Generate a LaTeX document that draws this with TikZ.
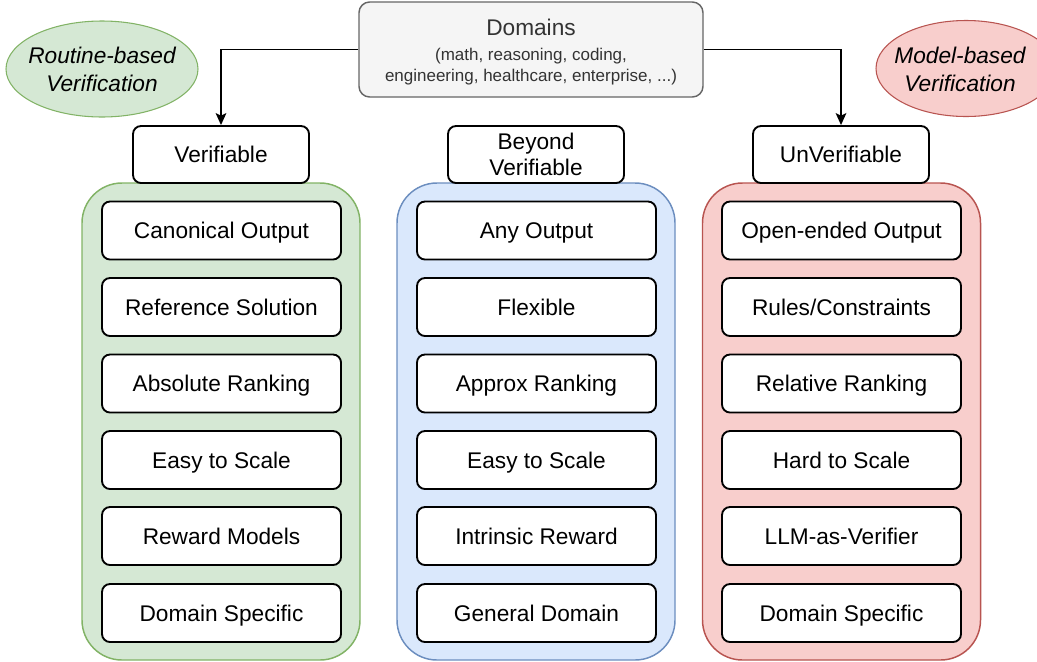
\documentclass[tikz,border=0pt]{standalone}
\usepackage{fontspec}
\setmainfont{Liberation Sans}
\usetikzlibrary{shapes.geometric,arrows.meta}
\definecolor{gfill}{HTML}{D5E8D4}
\definecolor{gline}{HTML}{82B366}
\definecolor{bfill}{HTML}{DAE8FC}
\definecolor{bline}{HTML}{6C8EBF}
\definecolor{rfill}{HTML}{F8CECC}
\definecolor{rline}{HTML}{B85450}
\definecolor{dfill}{HTML}{F5F5F5}
\definecolor{dline}{HTML}{666666}
\definecolor{dtext}{HTML}{333333}
\tikzset{
  bigfont/.style={font=\fontsize{17}{19.5}\selectfont},
  itembox/.style={draw=black, line width=1.4pt, fill=white, rounded corners=6pt,
    minimum width=179.25pt, minimum height=43.5pt, inner sep=0pt, bigfont, align=center,
    text height=12.2pt, text depth=0pt},
  headbox/.style={draw=black, line width=1.4pt, fill=white, rounded corners=6pt,
    minimum width=132pt, minimum height=42.75pt, inner sep=0pt, bigfont, align=center},
  oneline/.style={text height=12.2pt, text depth=0pt},
  container/.style={line width=1.1pt, rounded corners=30pt,
    minimum width=208.5pt, minimum height=357.75pt, inner sep=0pt},
  tagellipse/.style={ellipse, line width=0.8pt, minimum width=144pt, minimum height=72pt,
    inner sep=0pt},
  tagtext/.style={align=center, inner sep=0pt, font=\fontsize{17}{20.5}\selectfont\itshape},
  arr/.style={line width=1.4pt, -{Stealth[length=9pt,width=8pt,inset=2pt]}},
}
\begin{document}
\begin{tikzpicture}[x=0.75pt,y=-0.75pt]
\useasboundingbox (0,0) rectangle (1037,661);
\clip (0,0) rectangle (1037,661);

% tags
\node[tagellipse, draw=gline, fill=gfill] (tagR) at (102,69) {};
\node[tagtext] (tagRt) at (102,69.5) {Routine-based\\Verification};
\node[tagellipse, draw=rline, fill=rfill, minimum width=135pt] (tagM) at (966,68.5) {};
\node[tagtext] (tagMt) at (960,69.5) {Model-based\\Verification};

% domains
\node[draw=dline, fill=dfill, line width=1.1pt, rounded corners=8pt, minimum width=258pt,
  minimum height=71.25pt, inner sep=0pt] (dom) at (531,49.5) {};
\node[align=center, text=dtext, inner sep=0pt,
  font=\fontsize{12.75}{15.6}\selectfont] (domt) at (531,52)
  {{\fontsize{17}{19}\selectfont Domains}\\[3pt]
   (math, reasoning, coding,\\
   engineering, healthcare, enterprise, ...)};

% containers
\node[container, draw=gline, fill=gfill] (cg) at (221,421.5) {};
\node[container, draw=bline, fill=bfill] (cb) at (536,421.5) {};
\node[container, draw=rline, fill=rfill] (cr) at (841.5,421.5) {};

% headers
\node[headbox, oneline] (h1) at (221,154.5) {Verifiable};
\node[headbox] (h2) at (536,154.5) {Beyond\\Verifiable};
\node[headbox, oneline] (h3) at (841,154.5) {UnVerifiable};

% arrows
\draw[arr] (dom.west) -| (h1.north);
\draw[arr] (dom.east) -| (h3.north);

% items: verifiable
\node[itembox] (g1) at (221.5,230.5) {Canonical Output};
\node[itembox] (g2) at (221.5,307) {Reference Solution};
\node[itembox] (g3) at (221.5,383.5) {Absolute Ranking};
\node[itembox] (g4) at (221.5,460) {Easy to Scale};
\node[itembox] (g5) at (221.5,536) {Reward Models};
\node[itembox] (g6) at (221.5,613) {Domain Specific};

% items: beyond
\node[itembox] (b1) at (536.5,230.5) {Any Output};
\node[itembox] (b2) at (536.5,307) {Flexible};
\node[itembox] (b3) at (536.5,383.5) {Approx Ranking};
\node[itembox] (b4) at (536.5,460) {Easy to Scale};
\node[itembox] (b5) at (536.5,536) {Intrinsic Reward};
\node[itembox] (b6) at (536.5,613) {General Domain};

% items: unverifiable
\node[itembox] (r1) at (841.5,230.5) {Open-ended Output};
\node[itembox] (r2) at (841.5,307) {Rules/Constraints};
\node[itembox] (r3) at (841.5,383.5) {Relative Ranking};
\node[itembox] (r4) at (841.5,460) {Hard to Scale};
\node[itembox] (r5) at (841.5,536) {LLM-as-Verifier};
\node[itembox] (r6) at (841.5,613) {Domain Specific};
\end{tikzpicture}
\end{document}
